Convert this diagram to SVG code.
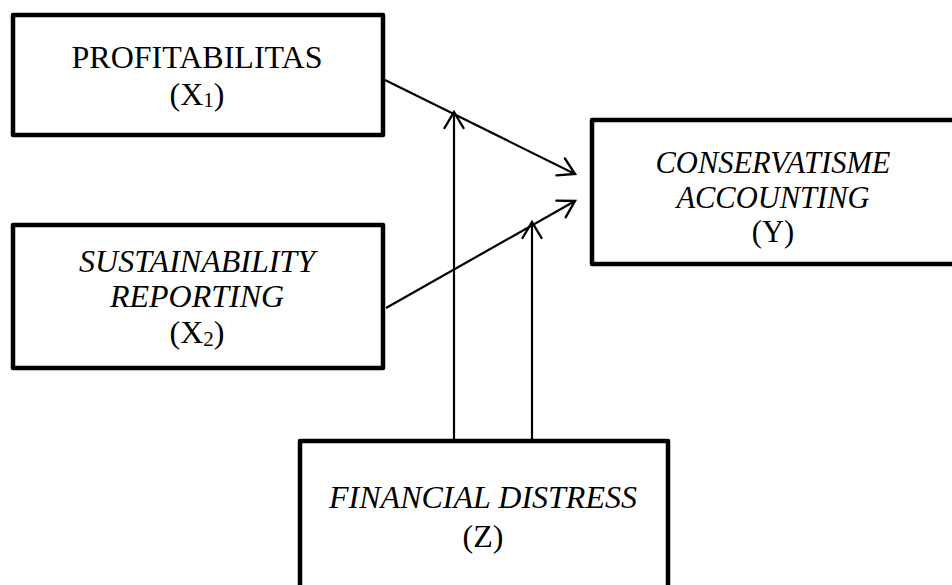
<svg xmlns="http://www.w3.org/2000/svg" width="952" height="585" viewBox="0 0 952 585">
<defs>
<style>
.box{fill:#fff;stroke:#000;stroke-width:4.5;stroke-linejoin:round}
.t{font-family:"Liberation Serif","Times New Roman",serif;font-size:32px;fill:#000;text-anchor:middle}
.i{font-style:italic}
.ty{font-size:30.5px}
.sub{font-size:21px}
.c{stroke:#000;stroke-width:2.2;fill:none}
</style>
<marker id="ah" markerUnits="userSpaceOnUse" markerWidth="40" markerHeight="40" viewBox="-20 -20 40 40" refX="0" refY="0" orient="auto">
<path d="M -16,-9.5 L 0,0 L -16,9.5" fill="none" stroke="#000" stroke-width="2.4" stroke-linecap="round" stroke-linejoin="miter"/>
</marker>
</defs>
<rect width="952" height="585" fill="#fff"/>
<g id="node-x1">
<rect class="box" x="13" y="15" width="370" height="120"/>
<text class="t" x="197" y="68">PROFITABILITAS</text>
<text class="t" x="197" y="105">(X<tspan class="sub" dy="2">1</tspan><tspan dy="-2">)</tspan></text>
</g>
<g id="node-x2">
<rect class="box" x="13" y="225" width="370" height="143"/>
<text class="t i" x="197" y="272">SUSTAINABILITY</text>
<text class="t i" x="197" y="307">REPORTING</text>
<text class="t" x="197" y="343">(X<tspan class="sub" dy="3">2</tspan><tspan dy="-3">)</tspan></text>
</g>
<g id="node-y">
<rect class="box" x="592" y="120" width="366" height="144"/>
<text class="t i ty" x="773" y="173">CONSERVATISME</text>
<text class="t i ty" x="773" y="207.5">ACCOUNTING</text>
<text class="t ty" x="773" y="242">(Y)</text>
</g>
<g id="node-z">
<rect class="box" x="300" y="441" width="368" height="170"/>
<text class="t i" x="483" y="508">FINANCIAL DISTRESS</text>
<text class="t" x="483" y="547">(Z)</text>
</g>
<g id="connectors">
<line class="c" x1="385" y1="80" x2="575" y2="174" marker-end="url(#ah)"/>
<line class="c" x1="386" y1="308" x2="575" y2="201" marker-end="url(#ah)"/>
<line class="c" x1="454" y1="439" x2="454" y2="112" marker-end="url(#ah)"/>
<line class="c" x1="532" y1="439" x2="532" y2="222" marker-end="url(#ah)"/>
</g>
</svg>
